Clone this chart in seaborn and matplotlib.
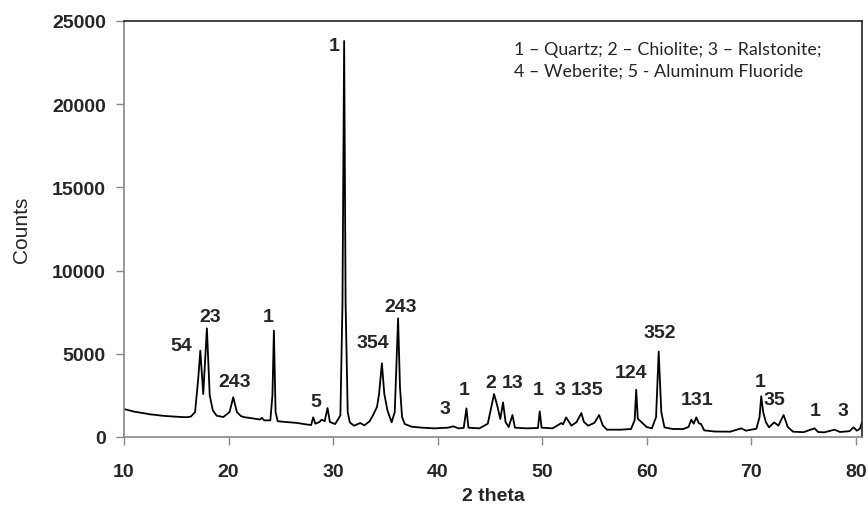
import matplotlib
matplotlib.use("Agg")
import matplotlib.pyplot as plt
import seaborn as sns
import pandas as pd

# ---- data ----
two_theta = [10.0, 10.5, 11.0, 11.5, 12.0, 12.5, 13.0, 13.5, 14.0, 14.5, 15.0, 15.5, 16.0, 16.4, 16.8,
             17.1, 17.3, 17.58, 17.93, 18.2, 18.5, 18.86, 19.5, 20.1, 20.45, 20.8, 21.2, 21.6, 22.0,
             22.5, 23.0, 23.2, 23.4, 24.0, 24.2, 24.34, 24.5, 24.7, 25.5, 26.5, 27.5, 27.9, 28.1, 28.3,
             28.7, 28.9, 29.2, 29.47, 29.7, 30.2, 30.7, 30.9, 31.06, 31.2, 31.4, 31.6, 32.0, 32.6, 33.0,
             33.5, 33.8, 34.2, 34.4, 34.67, 34.9, 35.2, 35.6, 35.9, 36.1, 36.22, 36.4, 36.6, 36.86,
             37.5, 38.5, 39.7, 41.0, 41.5, 42.0, 42.5, 42.76, 42.95, 44.0, 44.8, 45.2, 45.4, 45.7, 46.0,
             46.26, 46.5, 46.8, 47.16, 47.4, 48.5, 49.6, 49.77, 49.95, 51.0, 51.85, 52.0, 52.3, 52.8,
             53.3, 53.75, 54.0, 54.4, 55.0, 55.45, 55.8, 56.2, 57.5, 58.5, 58.85, 59.0, 59.15, 59.6,
             60.0, 60.5, 60.9, 61.15, 61.4, 61.7, 62.5, 63.5, 64.0, 64.27, 64.5, 64.75, 65.0, 65.2,
             65.5, 66.5, 68.0, 69.05, 69.5, 70.5, 70.8, 70.96, 71.15, 71.4, 71.7, 72.2, 72.6, 73.1,
             73.5, 74.0, 75.0, 76.06, 76.4, 77.0, 77.97, 78.5, 79.4, 79.8, 80.1, 80.4, 80.6]
counts = [1680, 1600, 1520, 1470, 1420, 1360, 1330, 1290, 1260, 1240, 1220, 1200, 1190, 1230, 1500,
          3500, 5190, 2580, 6530, 2500, 1600, 1280, 1200, 1500, 2390, 1500, 1250, 1180, 1150,
          1100, 1050, 1150, 1000, 1000, 2500, 6390, 1500, 950, 900, 850, 750, 720, 1180, 800,
          900, 1040, 950, 1740, 900, 780, 1300, 8000, 23800, 8000, 1500, 880, 680, 840, 700,
          950, 1280, 1800, 2580, 4430, 2600, 1600, 880, 1500, 5000, 7130, 3000, 1200, 780,
          620, 560, 520, 560, 640, 520, 550, 1720, 560, 520, 800, 2000, 2580, 1900, 1080,
          2080, 900, 600, 1320, 560, 520, 540, 1540, 560, 520, 840, 760, 1180, 680,
          900, 1440, 900, 680, 850, 1320, 700, 440, 440, 480, 1000, 2840, 1100, 840,
          600, 520, 1200, 5130, 1500, 580, 480, 480, 600, 1040, 800, 1180, 820, 780,
          400, 330, 320, 520, 380, 500, 1200, 2450, 1480, 900, 580, 880, 680, 1320,
          600, 320, 290, 520, 300, 280, 440, 300, 350, 580, 380, 500, 880]

label_text = ["54", "23", "243", "1", "5", "1", "354", "243", "3", "1", "2", "13", "1", "3", "135",
              "124", "352", "131", "1", "35", "1", "3"]
label_x = [15.51, 18.22, 20.55, 23.8, 28.36, 30.08, 33.77, 36.45, 40.75, 42.53, 45.09, 47.13, 49.61,
           51.68, 54.33, 58.47, 61.3, 64.85, 70.9, 72.24, 76.16, 78.77]
label_y = [5490, 7230, 3320, 7230, 2140, 23500, 5650, 7850, 1740, 2840, 3280, 3280, 2840,
           2840, 2840, 3850, 6250, 2280, 3320, 2280, 1620, 1620]

x_ticks = [10, 20, 30, 40, 50, 60, 70, 80]
y_ticks = [0, 5000, 10000, 15000, 20000, 25000]
legend_lines = ["1 \u2013 Quartz; 2 \u2013 Chiolite; 3 \u2013 Ralstonite;",
                "4 \u2013 Weberite; 5 - Aluminum Fluoride"]

# ---- plot ----
sns.set_theme(style="white")
plt.rcParams['font.family'] = ['Liberation Sans', 'DejaVu Sans']

df = pd.DataFrame({"2 theta": two_theta, "Counts": counts})

fig = plt.figure(figsize=(8.68, 5.10), dpi=100)
ax = fig.add_axes([124/868, 1-438/510, (862-124)/868, (438-22)/510])
sns.lineplot(data=df, x="2 theta", y="Counts", sort=False, color="black", linewidth=1.3, ax=ax)

ax.set_xlim(10, 80.6)
ax.set_ylim(0, 25000)
ax.set_xticks(x_ticks)
ax.set_yticks(y_ticks)
ax.set_xticklabels([str(t) for t in x_ticks], fontsize=14, fontweight="bold")
ax.set_yticklabels([str(t) for t in y_ticks], fontsize=14, fontweight="bold")
ax.tick_params(axis="both", direction="out", length=6, width=1, color="#888888",
               bottom=True, left=True)
ax.tick_params(axis="y", pad=7)
ax.tick_params(axis="x", pad=13)

ax.set_xlabel("2 theta", fontsize=14, fontweight="bold", labelpad=5)
ax.set_ylabel("Counts", fontsize=15, labelpad=15)

for side in ["left", "bottom"]:
    ax.spines[side].set_color("#888888")
    ax.spines[side].set_linewidth(1.2)
for side in ["top", "right"]:
    ax.spines[side].set_color("#222222")
    ax.spines[side].set_linewidth(1.2)
    ax.spines[side].set_visible(True)

for t, x, y in zip(label_text, label_x, label_y):
    ax.text(x, y, t, fontsize=14, fontweight="bold", ha="center", va="center")

ax.text(0.528, 0.907, legend_lines[0] + "\n" + legend_lines[1], transform=ax.transAxes,
        fontsize=12.9, family=["Lato", "DejaVu Sans"], ha="left", va="center", linespacing=1.4)

fig.savefig("out.png", dpi=100)
